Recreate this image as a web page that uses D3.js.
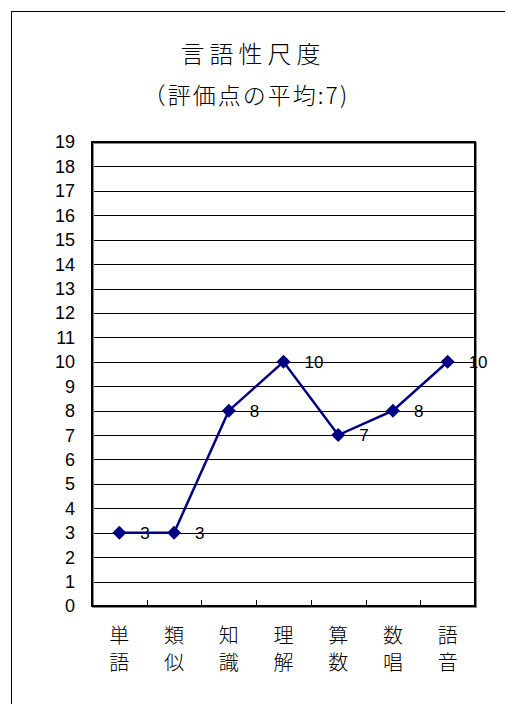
<!DOCTYPE html>
<html>
<head>
<meta charset="utf-8">
<script src="https://cdn.jsdelivr.net/npm/d3@7"></script>
<style>
  body { margin: 0; background: #fff; }
  text { font-family: "Noto Sans CJK JP", "Liberation Sans", sans-serif; fill: #000; }
</style>
</head>
<body>
<script>
var categories = [['単', '語'], ['類', '似'], ['知', '識'], ['理', '解'], ['算', '数'], ['数', '唱'], ['語', '音']];
var scores = [3, 3, 8, 10, 7, 8, 10];
var yTicks = d3.range(0, 20);
var title = '言語性尺度';
var subtitle = '（評価点の平均:7)';

var W = 505, H = 704;
var svg = d3.select('body').append('svg').attr('width', W).attr('height', H);

// outer chart frame (right and bottom fall outside the window)
svg.append('rect').attr('x', 11.5).attr('y', 11.5).attr('width', 520).attr('height', 720)
  .attr('fill', '#fff').attr('stroke', '#000').attr('stroke-width', 1);

svg.append('text').attr('x', 253).attr('y', 63).attr('text-anchor', 'middle')
  .style('font-size', '24px').style('font-weight', 300).style('letter-spacing', '5px').text(title);
svg.append('text').attr('x', 246).attr('y', 104).attr('text-anchor', 'middle')
  .style('font-size', '23px').style('font-weight', 300).style('letter-spacing', '2px').text(subtitle);

var plot = { left: 92, top: 142, right: 475, bottom: 606 };

var x = d3.scaleBand().domain(d3.range(categories.length))
  .range([plot.left, plot.right]);
var y = d3.scaleLinear().domain([0, 19]).range([plot.bottom, plot.top]);

// gridlines
svg.append('g').selectAll('line').data(yTicks.slice(1, -1)).enter().append('line')
  .attr('x1', plot.left).attr('x2', plot.right)
  .attr('y1', function(d) { return Math.round(y(d)) + 0.5; })
  .attr('y2', function(d) { return Math.round(y(d)) + 0.5; })
  .attr('stroke', '#000').attr('stroke-width', 1);

// y labels
svg.append('g').selectAll('text').data(yTicks).enter().append('text')
  .attr('x', 75).attr('y', function(d) { return y(d); })
  .attr('dy', '0.36em').attr('text-anchor', 'end')
  .style('font-family', '"Liberation Sans Narrow", "Liberation Sans", sans-serif')
  .style('font-size', '18px')
  .text(function(d) { return d; });

// category tick marks on the bottom axis
svg.append('g').selectAll('line').data(d3.range(1, categories.length)).enter().append('line')
  .attr('x1', function(d) { return Math.round(x(d)) + 0.5; })
  .attr('x2', function(d) { return Math.round(x(d)) + 0.5; })
  .attr('y1', plot.bottom - 6).attr('y2', plot.bottom)
  .attr('stroke', '#000').attr('stroke-width', 1);

// category labels (vertical, two characters)
var catG = svg.append('g').selectAll('g').data(categories).enter().append('g')
  .attr('transform', function(d, i) { return 'translate(' + (x(i) + x.bandwidth() / 2) + ',0)'; });
catG.append('text').attr('y', 643).attr('text-anchor', 'middle').style('font-size', '20px').style('font-weight', 300)
  .text(function(d) { return d[0]; });
catG.append('text').attr('y', 670).attr('text-anchor', 'middle').style('font-size', '20px').style('font-weight', 300)
  .text(function(d) { return d[1]; });

// plot frame with grey shadow
svg.append('rect').attr('x', plot.left + 1).attr('y', plot.top + 1)
  .attr('width', plot.right - plot.left).attr('height', plot.bottom - plot.top)
  .attr('fill', 'none').attr('stroke', '#888').attr('stroke-width', 2);
svg.append('rect').attr('x', plot.left).attr('y', plot.top)
  .attr('width', plot.right - plot.left).attr('height', plot.bottom - plot.top)
  .attr('fill', 'none').attr('stroke', '#000').attr('stroke-width', 2);

var cx = function(d, i) { return x(i) + x.bandwidth() / 2; };

// data labels
svg.append('g').selectAll('text').data(scores).enter().append('text')
  .attr('x', function(d, i) { return cx(d, i) + 21; })
  .attr('y', function(d) { return y(d); })
  .attr('dy', '0.36em')
  .style('font-family', '"Liberation Sans", sans-serif').style('font-size', '17px')
  .text(function(d) { return d; });

// line
var line = d3.line().x(function(d, i) { return cx(d, i); }).y(function(d) { return y(d); });
svg.append('path').datum(scores).attr('d', line)
  .attr('fill', 'none').attr('stroke', '#000080').attr('stroke-width', 2.5);

// diamond markers
svg.append('g').selectAll('path').data(scores).enter().append('path')
  .attr('transform', function(d, i) { return 'translate(' + cx(d, i) + ',' + y(d) + ')'; })
  .attr('d', 'M0,-7L7,0L0,7L-7,0Z')
  .attr('fill', '#000080');
</script>
</body>
</html>
